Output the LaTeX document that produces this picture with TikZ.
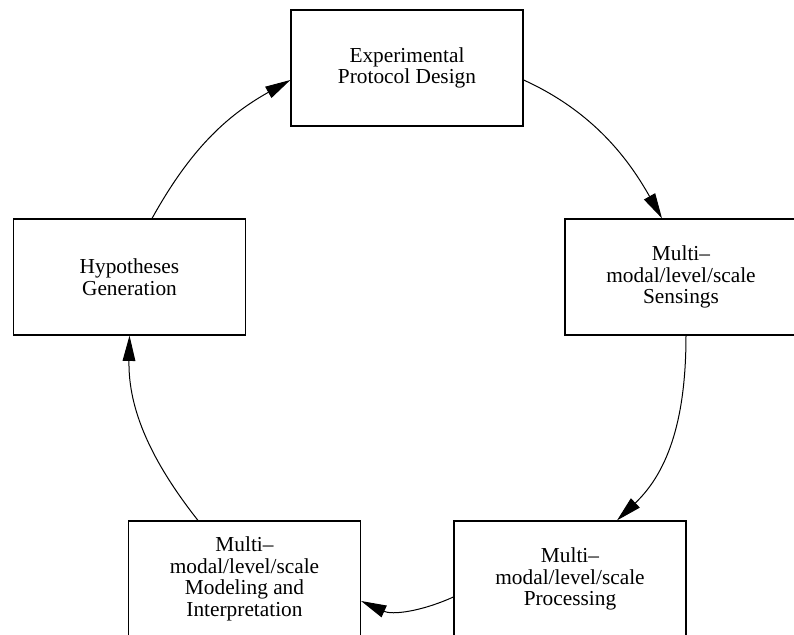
\documentclass[tikz,border=0pt]{standalone}
\usepackage{fontspec}
\setmainfont{Liberation Serif}
\usetikzlibrary{arrows.meta,calc}
\begin{document}
\begin{tikzpicture}[x=0.75pt,y=-0.75pt,
  box/.style={draw,line width=0.9pt,minimum width=174pt,minimum height=87pt,align=center,inner sep=0pt,font=\fontsize{16}{16.3}\selectfont},
  flow/.style={line width=0.75pt,-{Triangle[length=19pt,width=9.5pt]}}]
\useasboundingbox (0,0) rectangle (794,635);
\clip (0,0) rectangle (794,635);
\node[box] (epd) at (407,68) {Experimental\\Protocol Design};
\node[box] (sens) at (681,277) {Multi--\\modal/level/scale\\Sensings};
\node[box] (hyp) at (129.5,277) {Hypotheses\\Generation};
\node[box] (model) at (244.5,579) {Multi--\\modal/level/scale\\Modeling and\\Interpretation};
\node[box] (proc) at (570,579) {Multi--\\modal/level/scale\\Processing};
\draw[flow] ([yshift=-9pt]epd.east) .. controls (594,112) and (629,160) .. ([xshift=-14.25pt]sens.north);
\draw[flow] ([xshift=3.75pt]sens.south) .. controls (686,415) and (670,470) .. ([xshift=35.25pt]proc.north);
\draw[flow] ([yshift=-13.5pt]proc.west) .. controls (420,612) and (392,615) .. ([yshift=-16.5pt]model.east);
\draw[flow] ([xshift=-34.9pt]model.north) .. controls (152,462) and (128,410) .. (hyp.south);
\draw[flow] ([xshift=16.9pt]hyp.north) .. controls (190,150) and (226,116) .. ([yshift=-9pt]epd.west);
\end{tikzpicture}
\end{document}
